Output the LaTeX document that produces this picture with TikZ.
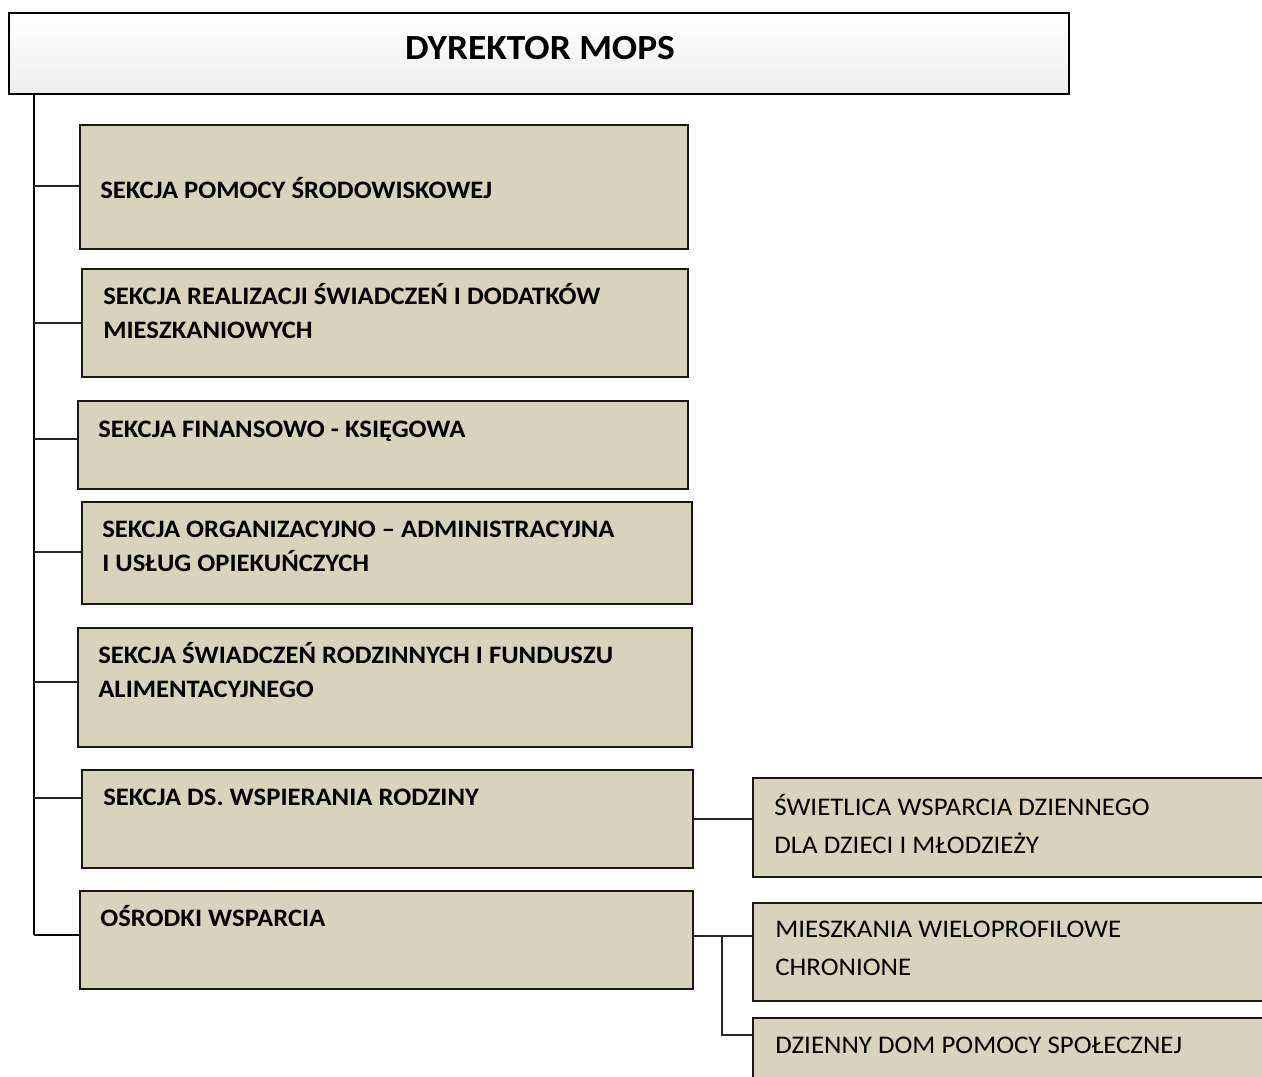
\documentclass[tikz,border=0pt]{standalone}
\usepackage{fontspec}
\setmainfont[FakeStretch=1.06]{Carlito}
\usetikzlibrary{positioning, fit}
\tikzset{%
  topbox/.style={
    draw,
    line width=1.3pt,
    top color=white,
    bottom color=black!7,
    inner sep=0pt
  },
  sekcja/.style={
    draw=black!90,
    line width=0.9pt,
    fill=boxtan,
    inner sep=0pt
  },
  boldtext/.style={
    anchor=base west,
    inner sep=0pt,
    align=left,
    font=\bfseries\fontsize{14.3}{18.8}\selectfont
  },
  plaintext/.style={
    anchor=base west,
    inner sep=0pt,
    align=left,
    font=\fontsize{14.45}{21.6}\selectfont
  },
  trunkline/.style={line width=1.1pt},
  branch/.style={line width=0.75pt, draw=black!85}
}
\definecolor{boxtan}{RGB}{216,211,186}

\begin{document}
\begin{tikzpicture}[x=0.02cm, y=-0.02cm]
		\useasboundingbox (0,0) rectangle (1262,1076);
		% director
		\node[topbox, fit={(9,13) (1069,94)}] (dyr) {};
		\node[anchor=base, inner sep=0pt, font=\bfseries\fontsize{20.1}{24}\selectfont] (dyrtext) at (540,59) {DYREKTOR MOPS};
		% sections
		\node[sekcja, fit={(80,125) (688,249)}] (s1) {};
		\node[sekcja, fit={(82,269) (688,377)}] (s2) {};
		\node[sekcja, fit={(78,401) (688,489)}] (s3) {};
		\node[sekcja, fit={(82,502) (692,604)}] (s4) {};
		\node[sekcja, fit={(78,628) (692,747)}] (s5) {};
		\node[sekcja, fit={(82,770) (693,868)}] (s6) {};
		\node[sekcja, fit={(80,891) (693,989)}] (s7) {};
		\node[boldtext] (s1text) at (100,198) {SEKCJA POMOCY ŚRODOWISKOWEJ};
		\node[boldtext] (s2text) at (103,338) {SEKCJA REALIZACJI ŚWIADCZEŃ I DODATKÓW\\MIESZKANIOWYCH};
		\node[boldtext] (s3text) at (98,437) {SEKCJA FINANSOWO - KSIĘGOWA};
		\node[boldtext] (s4text) at (102,571) {SEKCJA ORGANIZACYJNO – ADMINISTRACYJNA\\I USŁUG OPIEKUŃCZYCH};
		\node[boldtext] (s5text) at (98,697) {SEKCJA ŚWIADCZEŃ RODZINNYCH I FUNDUSZU\\ALIMENTACYJNEGO};
		\node[boldtext] (s6text) at (103,805) {SEKCJA DS. WSPIERANIA RODZINY};
		\node[boldtext] (s7text) at (100,926) {OŚRODKI WSPARCIA};
		% units
		\node[sekcja, fit={(753,778) (1290,877)}] (w1) {};
		\node[sekcja, fit={(753,903) (1290,1001)}] (w2) {};
		\node[sekcja, fit={(753,1018) (1290,1120)}] (w3) {};
		\node[plaintext] (w1text) at (774,853) {ŚWIETLICA WSPARCIA DZIENNEGO\\DLA DZIECI I MŁODZIEŻY};
		\node[plaintext] (w2text) at (775,975) {MIESZKANIA WIELOPROFILOWE\\CHRONIONE};
		\node[plaintext] (w3text) at (775,1053) {DZIENNY DOM POMOCY SPOŁECZNEJ};
		% trunk
		\coordinate (c1) at (34,186);
		\coordinate (c2) at (34,323);
		\coordinate (c3) at (34,439);
		\coordinate (c4) at (34,552);
		\coordinate (c5) at (34,682);
		\coordinate (c6) at (34,798);
		\coordinate (c7) at (34,935);
		\draw[trunkline] (dyr.south -| c7) -- (c7);
		\draw[branch] (c1) -- (c1 -| s1.west);
		\draw[branch] (c2) -- (c2 -| s2.west);
		\draw[branch] (c3) -- (c3 -| s3.west);
		\draw[branch] (c4) -- (c4 -| s4.west);
		\draw[branch] (c5) -- (c5 -| s5.west);
		\draw[branch] (c6) -- (c6 -| s6.west);
		\draw[trunkline] (c7) -- (c7 -| s7.west);
		% right side
		\coordinate (j1) at (722,936);
		\coordinate (j2) at (722,1035);
		\draw[branch] (s6.east) -- (s6.east -| w1.west);
		\draw[branch] (j1 -| s7.east) -- (j1) -- (j1 -| w2.west);
		\draw[branch] (j1) -- (j2) -- (j2 -| w3.west);
	\end{tikzpicture}
\end{document}
